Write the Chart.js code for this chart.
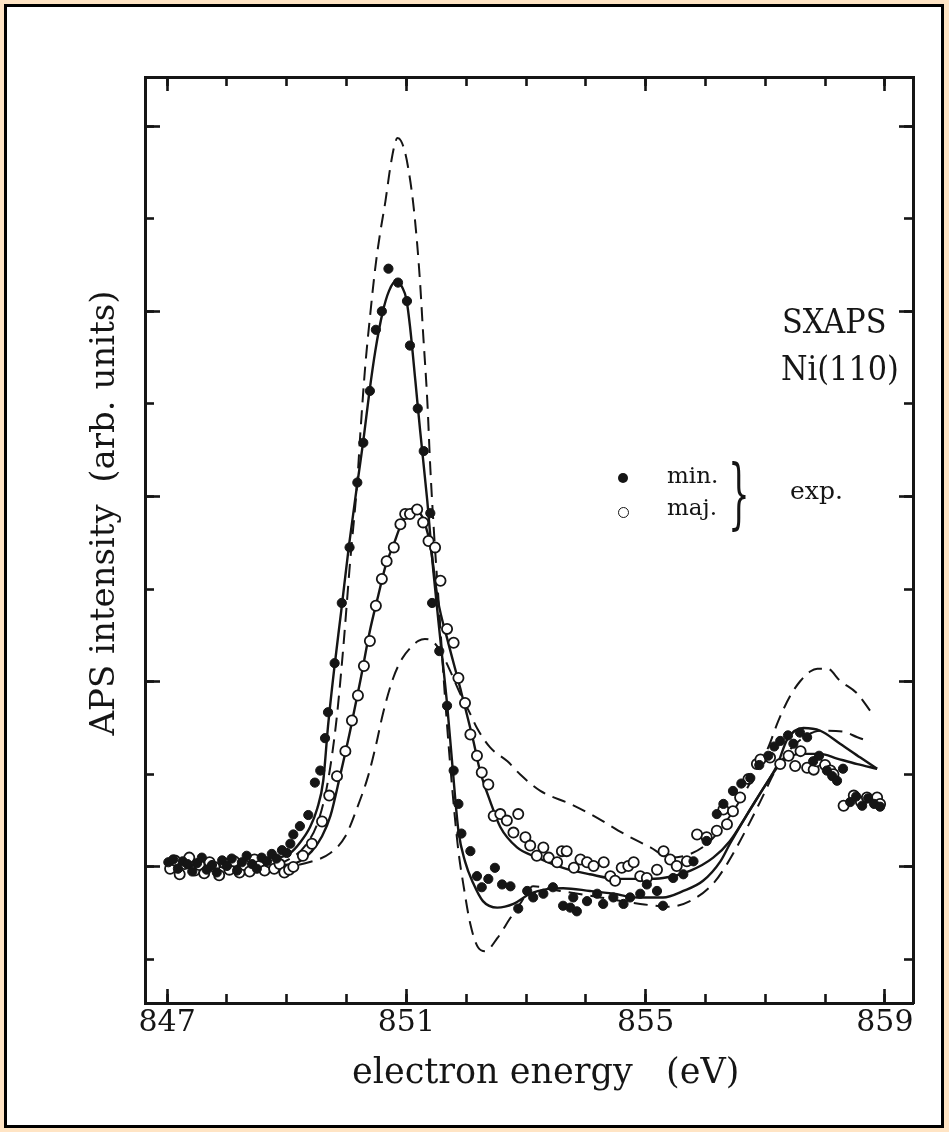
<!DOCTYPE html>
<html>
<head>
<meta charset="utf-8">
<title>SXAPS Ni(110)</title>
<script src="https://cdn.jsdelivr.net/npm/chart.js@4.4.1/dist/chart.umd.min.js"></script>
<style>
  html, body { margin: 0; padding: 0; background: #ffe4c4; }
  #frame { position: absolute; left: 4px; top: 4px; width: 940px; height: 1124px;
           box-sizing: border-box; border: 3px solid #000; background: #fff; }
  #plot { position: absolute; left: 0; top: 0; }
  .txt { position: absolute; font-family: "DejaVu Serif", serif; color: #151515;
         white-space: nowrap; line-height: 1; }
  .mark { position: absolute; border-radius: 50%; box-sizing: border-box; }
</style>
</head>
<body>
<div id="frame"></div>
<canvas id="plot" width="949" height="1132"></canvas>

<div class="txt" style="left:782px; top:305px; font-size:33px; transform:scaleX(0.92); transform-origin:left top;">SXAPS</div>
<div class="txt" style="left:781px; top:352px; font-size:33px; transform:scaleX(0.92); transform-origin:left top;">Ni(110)</div>

<div class="mark" style="left:618px; top:473px; width:10px; height:10px; background:#151515;"></div>
<div class="mark" style="left:618px; top:507px; width:11px; height:11px; border:1.8px solid #151515; background:#fff;"></div>
<div class="txt" style="left:667px; top:464px; font-size:23px;">min.</div>
<div class="txt" style="left:667px; top:496px; font-size:23px;">maj.</div>
<div class="txt" style="left:728px; top:455px; font-size:76px; transform:scaleX(0.45); transform-origin:left top;">}</div>
<div class="txt" style="left:790px; top:478px; font-size:25px;">exp.</div>

<script>
// axis ranges (eV, arbitrary intensity units: one unit = one y tick)
const X_MIN = 846.63, X_MAX = 859.47;
const Y_MIN = -1.47, Y_MAX = 8.53;

const energyLabels = [847, 851, 855, 859];
const energyMinor = [847, 848, 849, 850, 851, 852, 853, 854, 855, 856, 857, 858, 859];
const intensityMinor = [-1, 0, 1, 2, 3, 4, 5, 6, 7, 8];
const intensityMajor = [0, 2, 4, 6, 8];

// experiment, minority spin (filled dots)
const minDots = [
  [847.02,0.05],[847.10,0.08],[847.18,-0.02],[847.26,0.06],[847.34,0.03],[847.42,-0.05],
  [847.50,0.04],[847.58,0.10],[847.66,-0.03],[847.75,0.02],[847.83,-0.06],[847.92,0.07],
  [848.00,0.01],[848.08,0.09],[848.17,-0.04],[848.25,0.05],[848.33,0.12],[848.42,0.03],
  [848.50,-0.02],[848.58,0.10],[848.67,0.06],[848.75,0.14],[848.83,0.09],[848.92,0.18],
  [849.00,0.15],[849.06,0.25],[849.11,0.35],[849.22,0.44],[849.36,0.56],[849.47,0.91],
  [849.56,1.04],[849.64,1.39],[849.69,1.67],[849.80,2.20],[849.92,2.85],[850.05,3.45],
  [850.18,4.15],[850.28,4.58],[850.39,5.14],[850.49,5.80],[850.59,6.00],[850.70,6.46],
  [850.86,6.31],[851.01,6.11],[851.06,5.63],[851.19,4.95],[851.29,4.49],[851.40,3.82],
  [851.43,2.85],[851.55,2.33],[851.68,1.74],[851.79,1.04],[851.87,0.68],[851.92,0.36],
  [852.07,0.17],[852.18,-0.10],[852.26,-0.22],[852.37,-0.13],[852.48,-0.01],[852.60,-0.19],
  [852.74,-0.21],[852.87,-0.45],[853.02,-0.26],[853.12,-0.33],[853.29,-0.29],[853.45,-0.22],
  [853.62,-0.42],[853.74,-0.44],[853.79,-0.33],[853.85,-0.48],[854.02,-0.37],[854.19,-0.29],
  [854.29,-0.40],[854.46,-0.33],[854.63,-0.40],[854.74,-0.33],[854.91,-0.29],[855.02,-0.19],
  [855.19,-0.26],[855.29,-0.42],[855.46,-0.12],[855.63,-0.08],[855.80,0.06],[856.02,0.28],
  [856.19,0.57],[856.30,0.68],[856.46,0.82],[856.60,0.90],[856.75,0.96],[856.90,1.10],
  [857.05,1.20],[857.15,1.30],[857.25,1.36],[857.38,1.42],[857.47,1.33],[857.58,1.45],
  [857.70,1.40],[857.80,1.14],[857.90,1.20],[858.03,1.04],[858.12,0.98],[858.20,0.93],
  [858.30,1.06],[858.42,0.70],[858.52,0.76],[858.62,0.66],[858.72,0.74],[858.82,0.68],
  [858.92,0.65]
];

// experiment, majority spin (open circles)
const majDots = [
  [847.05,-0.02],[847.13,0.07],[847.21,-0.08],[847.29,0.03],[847.37,0.10],[847.46,-0.04],
  [847.54,0.02],[847.62,-0.07],[847.71,0.05],[847.79,0.00],[847.87,-0.09],[847.96,0.04],
  [848.04,-0.03],[848.12,0.06],[848.21,-0.06],[848.29,0.02],[848.38,-0.05],[848.46,0.08],
  [848.54,0.01],[848.63,-0.04],[848.71,0.05],[848.79,-0.02],[848.88,0.03],[848.96,-0.06],
  [849.04,-0.03],[849.11,0.00],[849.27,0.12],[849.42,0.25],[849.59,0.49],[849.71,0.77],
  [849.84,0.98],[849.98,1.25],[850.09,1.58],[850.19,1.85],[850.29,2.17],[850.39,2.44],
  [850.49,2.82],[850.59,3.11],[850.67,3.30],[850.79,3.45],[850.90,3.70],[850.98,3.81],
  [851.06,3.81],[851.18,3.86],[851.28,3.72],[851.37,3.52],[851.48,3.45],[851.57,3.09],
  [851.68,2.57],[851.79,2.42],[851.87,2.04],[851.98,1.77],[852.07,1.43],[852.18,1.20],
  [852.26,1.02],[852.37,0.89],[852.46,0.55],[852.57,0.57],[852.68,0.50],[852.79,0.37],
  [852.87,0.57],[852.99,0.32],[853.07,0.23],[853.18,0.12],[853.29,0.21],[853.38,0.10],
  [853.52,0.05],[853.60,0.17],[853.68,0.17],[853.80,-0.01],[853.91,0.08],[854.02,0.05],
  [854.13,0.01],[854.30,0.05],[854.41,-0.10],[854.49,-0.15],[854.60,-0.01],[854.71,0.01],
  [854.80,0.05],[854.91,-0.10],[855.02,-0.12],[855.19,-0.03],[855.30,0.17],[855.41,0.08],
  [855.52,0.01],[855.69,0.06],[855.86,0.35],[856.02,0.32],[856.19,0.39],[856.30,0.62],
  [856.36,0.46],[856.46,0.60],[856.58,0.75],[856.72,0.95],[856.86,1.11],[856.92,1.16],
  [857.08,1.18],[857.25,1.11],[857.39,1.20],[857.50,1.09],[857.59,1.25],[857.70,1.07],
  [857.81,1.05],[857.86,1.14],[858.00,1.10],[858.09,1.04],[858.14,1.00],[858.31,0.66],
  [858.48,0.77],[858.60,0.70],[858.70,0.75],[858.87,0.75],[858.92,0.68]
];

// solid curves (fits)
const fitMin = [
  [847.00,0.02],[847.89,0.02],[848.47,0.04],[848.81,0.09],[849.06,0.15],[849.22,0.26],
  [849.39,0.43],[849.51,0.63],[849.61,0.93],[849.69,1.52],[849.79,2.12],[849.91,2.76],
  [850.04,3.47],[850.18,4.14],[850.28,4.60],[850.38,5.12],[850.48,5.57],[850.60,5.98],
  [850.71,6.22],[850.83,6.33],[850.93,6.26],[851.00,6.13],[851.06,5.84],[851.15,5.25],
  [851.23,4.71],[851.35,3.95],[851.45,3.20],[851.57,2.44],[851.68,1.76],[851.77,1.09],
  [851.87,0.39],[851.98,0.06],[852.12,-0.18],[852.28,-0.37],[852.52,-0.44],[852.79,-0.40],
  [853.07,-0.29],[853.35,-0.24],[853.62,-0.23],[854.07,-0.26],[854.46,-0.29],[854.86,-0.33],
  [855.29,-0.33],[855.63,-0.26],[855.96,-0.15],[856.25,0.06],[856.41,0.25],[856.70,0.57],
  [856.97,0.85],[857.20,1.10],[857.37,1.38],[857.64,1.50],[857.92,1.47],[858.25,1.33],
  [858.59,1.18],[858.87,1.06]
];
const fitMaj = [
  [847.00,0.00],[848.39,0.00],[848.97,0.02],[849.22,0.06],[849.42,0.17],[849.59,0.33],
  [849.73,0.55],[849.89,0.98],[850.06,1.47],[850.23,2.01],[850.39,2.55],[850.53,2.93],
  [850.66,3.27],[850.78,3.47],[850.90,3.68],[851.01,3.81],[851.11,3.87],[851.23,3.82],
  [851.31,3.71],[851.40,3.47],[851.53,2.87],[851.68,2.47],[851.90,1.93],[852.12,1.36],
  [852.23,1.04],[852.40,0.71],[852.57,0.43],[852.85,0.21],[853.19,0.10],[853.62,-0.01],
  [854.07,-0.08],[854.53,-0.13],[854.96,-0.13],[855.29,-0.12],[855.75,-0.04],[856.13,0.10],
  [856.41,0.28],[856.70,0.57],[856.97,0.85],[857.25,1.11],[857.59,1.22],[857.92,1.22],
  [858.20,1.17],[858.54,1.11],[858.87,1.06]
];

// dashed curves (calculation)
const calcTall = [
  [847.00,0.00],[848.72,0.01],[849.06,0.09],[849.31,0.23],[849.53,0.50],[849.69,0.93],
  [849.83,1.58],[849.94,2.33],[850.06,3.30],[850.18,4.17],[850.23,4.68],[850.31,5.39],
  [850.39,5.93],[850.48,6.47],[850.56,6.84],[850.65,7.19],[850.73,7.55],[850.80,7.79],
  [850.85,7.87],[850.91,7.84],[850.98,7.71],[851.03,7.55],[851.11,7.19],[851.18,6.73],
  [851.23,6.30],[851.28,5.76],[851.35,5.03],[851.40,4.31],[851.46,3.63],[851.55,2.76],
  [851.65,1.79],[851.77,0.82],[851.87,0.17],[851.95,-0.18],[852.07,-0.62],[852.20,-0.87],
  [852.32,-0.91],[852.52,-0.77],[852.74,-0.55],[852.90,-0.40],[853.12,-0.21],[853.57,-0.26],
  [854.24,-0.33],[854.91,-0.40],[855.41,-0.43],[855.80,-0.35],[856.13,-0.18],[856.36,0.03],
  [856.67,0.39],[856.92,0.71],[857.17,1.04],[857.42,1.27],[857.67,1.41],[857.92,1.47],
  [858.30,1.46],[858.54,1.40],[858.76,1.35]
];
const calcLow = [
  [847.00,0.00],[848.89,0.00],[849.31,0.04],[849.73,0.15],[849.98,0.33],[850.19,0.66],
  [850.36,0.98],[850.49,1.31],[850.61,1.66],[850.78,2.04],[850.93,2.25],[851.06,2.36],
  [851.20,2.44],[851.31,2.46],[851.43,2.44],[851.57,2.33],[851.73,2.12],[851.90,1.87],
  [852.07,1.65],[852.18,1.50],[852.40,1.29],[852.69,1.14],[852.90,1.00],[853.24,0.82],
  [853.74,0.68],[854.19,0.53],[854.63,0.36],[855.08,0.21],[855.41,0.10],[855.75,0.14],
  [856.08,0.28],[856.41,0.55],[856.75,0.91],[857.05,1.29],[857.22,1.58],[857.42,1.85],
  [857.59,2.01],[857.75,2.11],[857.87,2.14],[858.04,2.14],[858.25,2.01],[858.54,1.87],
  [858.76,1.68]
];

const ink = '#151515';
const serif = 'DejaVu Serif';
const pts = arr => arr.map(([x, y]) => ({ x, y }));
const fixTicks = values => s => { s.ticks = values.map(v => ({ value: v })); };

// one helper for the tick-only axes; the frame is drawn by the four "inner" axes
function axis(pos, values, len, size, extra) {
  const horiz = pos === 'top' || pos === 'bottom';
  return Object.assign({
    type: 'linear',
    position: pos,
    bounds: 'data',
    min: horiz ? X_MIN : Y_MIN,
    max: horiz ? X_MAX : Y_MAX,
    afterBuildTicks: fixTicks(values),
    afterFit: s => { if (horiz) s.height = size; else s.width = size; },
    grid: { drawOnChartArea: false, drawTicks: true, tickLength: len, tickWidth: 2.6, tickColor: ink },
    border: { display: false },
    ticks: { display: false, autoSkip: false }
  }, extra || {});
}
const frameBorder = { display: true, width: 3, color: ink };

const lineSet = (label, data, dashed) => ({
  label,
  data: pts(data),
  showLine: true,
  borderColor: ink,
  borderWidth: dashed ? 2 : 2.4,
  borderDash: dashed ? [14, 8] : [],
  pointRadius: 0,
  cubicInterpolationMode: 'monotone',
  fill: false
});

new Chart(document.getElementById('plot'), {
  type: 'scatter',
  data: {
    datasets: [
      {
        label: 'min.',
        data: pts(minDots),
        pointRadius: 4.6,
        pointBackgroundColor: ink,
        pointBorderColor: ink,
        pointBorderWidth: 1
      },
      {
        label: 'maj.',
        data: pts(majDots),
        pointRadius: 5.1,
        pointBackgroundColor: '#fff',
        pointBorderColor: ink,
        pointBorderWidth: 1.8
      },
      lineSet('fit min.', fitMin, false),
      lineSet('fit maj.', fitMaj, false),
      lineSet('calc. min.', calcTall, true),
      lineSet('calc. maj.', calcLow, true)
    ]
  },
  options: {
    responsive: false,
    animation: false,
    events: [],
    layout: { padding: { left: 0, right: 36, top: 77, bottom: 0 } },
    plugins: { legend: { display: false }, tooltip: { enabled: false } },
    scales: {
      x: axis('bottom', energyMinor, -9, 0, { weight: 0, border: frameBorder }),
      xLab: axis('bottom', energyLabels, -14, 129, {
        weight: 1,
        ticks: {
          display: true, autoSkip: false, maxRotation: 0, padding: 16,
          color: ink, font: { family: serif, size: 30 },
          callback: v => String(v)
        },
        title: {
          display: true, text: '   electron energy   (eV)', color: ink,
          font: { family: serif, size: 35 }, padding: { top: 0, bottom: 37 }
        }
      }),
      xTop: axis('top', energyMinor, -9, 0, { weight: 0, border: frameBorder }),
      xTopMaj: axis('top', energyLabels, -14, 0, { weight: 1 }),
      y: axis('left', intensityMinor, -9, 0, { weight: 0, border: frameBorder }),
      yLab: axis('left', intensityMajor, -15, 145, {
        weight: 1,
        title: {
          display: true, text: '     APS intensity  (arb. units)', color: ink,
          font: { family: serif, size: 34 }, padding: { top: 85, bottom: 0 }
        }
      }),
      yR: axis('right', intensityMinor, -9, 0, { weight: 0, border: frameBorder }),
      yRMaj: axis('right', intensityMajor, -14, 0, { weight: 1 })
    }
  }
});
</script>
</body>
</html>
